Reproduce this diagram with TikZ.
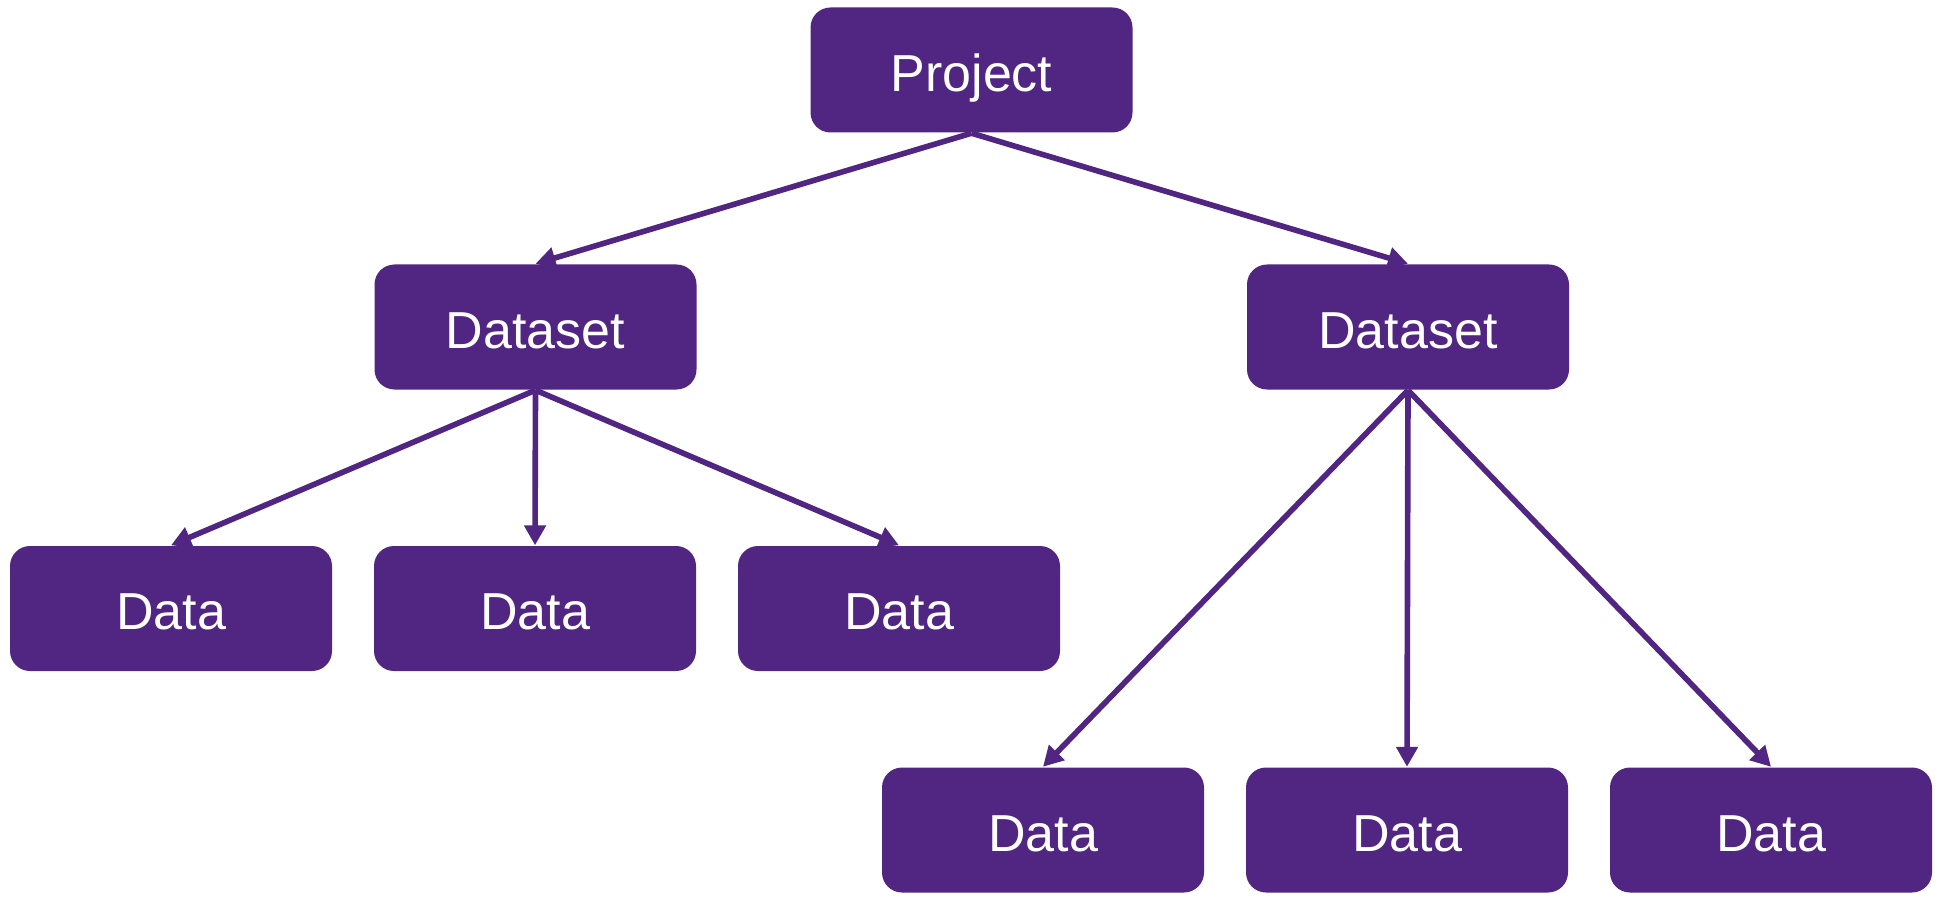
\documentclass[tikz,border=0pt]{standalone}
\usepackage{fontspec}
\setmainfont{Liberation Sans}
\usetikzlibrary{arrows.meta}
\definecolor{boxpurple}{RGB}{81,38,131}

\begin{document}
\begin{tikzpicture}[
 every node/.style={font=\fontsize{14.8}{18}\selectfont},
 itembox/.style={fill=boxpurple,text=white,rounded corners=2mm,
   minimum width=3.22cm,minimum height=1.25cm,inner sep=0pt,
   text height=12.2pt,text depth=0pt},
 link/.style={boxpurple,line width=1.6pt,
   -{Triangle[length=2mm,width=2.1mm]}}]
 \useasboundingbox (0,0) rectangle (19.42,-9.01);
 \node[itembox] (proj) at (9.715,-.70) {Project};
 \node[itembox] (setL) at (5.355,-3.27) {Dataset};
 \node[itembox] (setR) at (14.08,-3.27) {Dataset};
 \foreach \n/\x in {1/1.71,2/5.35,3/8.99}
  {\node[itembox] (dataL\n) at (\x,-6.085) {Data};}
 \foreach \n/\x in {1/10.43,2/14.07,3/17.71}
  {\node[itembox] (dataR\n) at (\x,-8.30) {Data};}
 \draw[link] (proj.south)--(setL.north);
 \draw[link] (proj.south)--(setR.north);
 \foreach \n in {1,2,3}{
  \draw[link] (setL.south)--(dataL\n.north);
  \draw[link] (setR.south)--(dataR\n.north);}
\end{tikzpicture}
\end{document}
